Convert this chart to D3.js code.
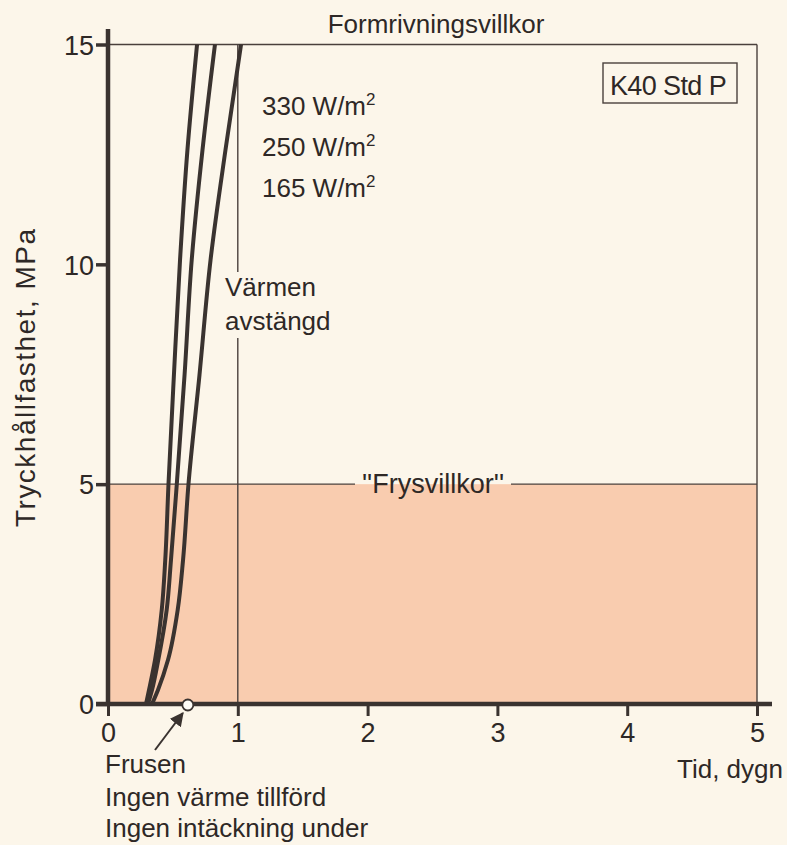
<!DOCTYPE html>
<html>
<head>
<meta charset="utf-8">
<script src="https://cdn.jsdelivr.net/npm/d3@7"></script>
<style>
  html, body { margin: 0; padding: 0; background: #fcf6ea; }
  svg { display: block; }
  text { font-family: "Liberation Sans", Arial, Helvetica, sans-serif; fill: #2e2826; }
</style>
</head>
<body>
<svg id="chart" width="787" height="845"></svg>
<script>
// ---- data ----
const strengthLevels = [0, 0.32, 1.0, 2.14, 3.27, 5, 7.49, 10.1, 12.6, 15];   // MPa
const days330 = [0.293, 0.316, 0.362, 0.414, 0.441, 0.466, 0.508, 0.555, 0.612, 0.686];
const days250 = [0.308, 0.339, 0.387, 0.452, 0.485, 0.530, 0.590, 0.645, 0.728, 0.824];
const days165 = [0.339, 0.385, 0.462, 0.537, 0.578, 0.620, 0.705, 0.790, 0.905, 1.025];
const seriesLabels = ["330 W/m", "250 W/m", "165 W/m"];
const xTicks = [0, 1, 2, 3, 4, 5];
const yTicks = [0, 5, 10, 15];
const freezeLimit = 5;       // MPa, "Frysvillkor"
const formLimit = 15;        // MPa, "Formrivningsvillkor"
const heatOffDay = 1;        // "Värmen avstängd"
const frozenDay = 0.615;     // "Frusen" point
const noteLines = ["Frusen", "Ingen värme tillförd", "Ingen intäckning under"];

// ---- setup ----
const svg = d3.select("#chart");
const ink = "#3a3330";
const x = d3.scaleLinear().domain([0, 5]).range([108, 757]);
const y = d3.scaleLinear().domain([0, 15]).range([704, 44.5]);

// shaded freeze zone
svg.append("rect")
  .attr("x", x(0)).attr("y", y(freezeLimit))
  .attr("width", x(5) - x(0)).attr("height", y(0) - y(freezeLimit))
  .attr("fill", "#f9ccaf");

// thin frame lines
const thin = svg.append("g").attr("stroke", "#4a403c").attr("stroke-width", 1.4).attr("fill", "none");
thin.append("line").attr("x1", x(0)).attr("x2", x(5)).attr("y1", y(formLimit)).attr("y2", y(formLimit));
thin.append("line").attr("x1", x(5)).attr("x2", x(5)).attr("y1", y(formLimit)).attr("y2", y(0));
thin.append("line").attr("x1", x(0)).attr("x2", 355).attr("y1", y(freezeLimit)).attr("y2", y(freezeLimit));
thin.append("line").attr("x1", 511).attr("x2", x(5)).attr("y1", y(freezeLimit)).attr("y2", y(freezeLimit));
thin.append("line").attr("x1", x(heatOffDay)).attr("x2", x(heatOffDay)).attr("y1", y(formLimit)).attr("y2", 272);
thin.append("line").attr("x1", x(heatOffDay)).attr("x2", x(heatOffDay)).attr("y1", 338).attr("y2", y(0));

// curves (points ordered by increasing pixel y for the monotone curve)
const line = d3.line()
  .x(d => x(d[0])).y(d => y(d[1]))
  .curve(d3.curveMonotoneY);
[days330, days250, days165].forEach(days => {
  const pts = days.map((d, i) => [d, strengthLevels[i]]).reverse();
  svg.append("path").attr("d", line(pts))
    .attr("fill", "none").attr("stroke", ink).attr("stroke-width", 4);
});

// axes
const yAxis = d3.axisLeft(y).tickValues(yTicks).tickSize(12).tickPadding(2).tickFormat(d3.format("d"));
const gy = svg.append("g").attr("transform", `translate(${x(0)},0)`).call(yAxis);
gy.select(".domain").remove();
gy.selectAll(".tick line").attr("stroke", ink).attr("stroke-width", 3.5);
gy.selectAll(".tick text").attr("font-size", 27).attr("fill", "#2e2826")
  .attr("font-family", "Liberation Sans, Arial, sans-serif").attr("dy", "0.36em");

const xAxis = d3.axisBottom(x).tickValues(xTicks).tickSize(12).tickPadding(7).tickFormat(d3.format("d"));
const gx = svg.append("g").attr("transform", `translate(0,${y(0)})`).call(xAxis);
gx.select(".domain").remove();
gx.selectAll(".tick line").attr("stroke", ink).attr("stroke-width", 3);
gx.selectAll(".tick text").attr("font-size", 27).attr("fill", "#2e2826")
  .attr("font-family", "Liberation Sans, Arial, sans-serif").attr("dy", "0.72em");

// thick axis lines
svg.append("line").attr("x1", x(0)).attr("x2", x(0)).attr("y1", 29).attr("y2", y(0) + 2)
  .attr("stroke", ink).attr("stroke-width", 4.5);
svg.append("line").attr("x1", 96).attr("x2", 772).attr("y1", y(0)).attr("y2", y(0))
  .attr("stroke", ink).attr("stroke-width", 4.5);

// frozen point + arrow
svg.append("defs").append("marker")
  .attr("id", "ah").attr("viewBox", "0 0 10 10").attr("refX", 9).attr("refY", 5)
  .attr("markerWidth", 7).attr("markerHeight", 7).attr("orient", "auto")
  .append("path").attr("d", "M0,0 L10,5 L0,10 z").attr("fill", ink);
svg.append("line").attr("x1", 155).attr("y1", 750).attr("x2", x(frozenDay) - 5).attr("y2", y(0) + 9)
  .attr("stroke", ink).attr("stroke-width", 2).attr("marker-end", "url(#ah)");
svg.append("circle").attr("cx", x(frozenDay)).attr("cy", y(0) + 1).attr("r", 5.5)
  .attr("fill", "#fffdf8").attr("stroke", ink).attr("stroke-width", 1.8);

// texts
const fs = 26;
svg.append("text").attr("x", 436).attr("y", 33).attr("text-anchor", "middle")
  .attr("font-size", fs).text("Formrivningsvillkor");

svg.append("rect").attr("x", 603).attr("y", 63).attr("width", 134).attr("height", 40)
  .attr("fill", "none").attr("stroke", "#4a403c").attr("stroke-width", 1.4);
svg.append("text").attr("x", 668).attr("y", 95).attr("text-anchor", "middle")
  .attr("font-size", 27).attr("letter-spacing", -0.6).text("K40 Std P");

const sy = [115, 156, 197];
seriesLabels.forEach((s, i) => {
  const t = svg.append("text").attr("x", 262).attr("y", sy[i]).attr("font-size", fs);
  t.append("tspan").text(s);
  t.append("tspan").attr("dy", -10).attr("font-size", 17).text("2");
});

svg.append("text").attr("x", 225).attr("y", 296).attr("font-size", fs).text("Värmen");
svg.append("text").attr("x", 225).attr("y", 330).attr("font-size", fs).text("avstängd");

svg.append("text").attr("x", 433).attr("y", 493).attr("text-anchor", "middle")
  .attr("font-size", 27).text("''Frysvillkor''");

svg.append("text").attr("x", 783).attr("y", 778).attr("text-anchor", "end")
  .attr("font-size", fs).text("Tid, dygn");

svg.append("text").attr("transform", "translate(35,378) rotate(-90)")
  .attr("text-anchor", "middle").attr("font-size", 28)
  .attr("textLength", 298).attr("lengthAdjust", "spacing")
  .text("Tryckhållfasthet, MPa");

const noteY = [773, 806, 837];
noteLines.forEach((s, i) => {
  svg.append("text").attr("x", 105).attr("y", noteY[i]).attr("font-size", fs).text(s);
});
</script>
</body>
</html>
